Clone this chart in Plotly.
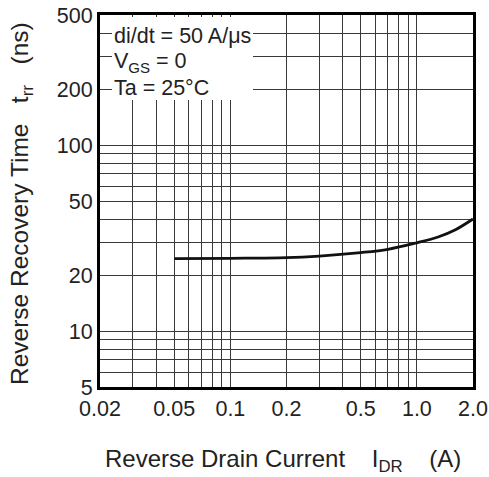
import plotly.graph_objects as go
import math

# Data
current_a = [0.05, 0.1, 0.2, 0.3, 0.5, 0.7, 1.0, 1.3, 1.6, 2.0]
trr_ns = [24.5, 24.6, 24.8, 25.3, 26.4, 27.5, 29.8, 32.0, 34.9, 40.0]

x_tick_vals = [0.02, 0.05, 0.1, 0.2, 0.5, 1.0, 2.0]
x_tick_text = ["0.02", "0.05", "0.1", "0.2", "0.5", "1.0", "2.0"]
x_minor_grid = [0.03, 0.04, 0.06, 0.07, 0.08, 0.09, 0.3, 0.4, 0.6, 0.7, 0.8, 0.9]

y_tick_vals = [5, 10, 20, 50, 100, 200, 500]
y_tick_text = ["5", "10", "20", "50", "100", "200", "500"]
y_minor_grid = [6, 7, 8, 9, 30, 40, 60, 70, 80, 90, 300, 400]

conditions = ["di/dt = 50 A/\u03bcs", "V<sub>GS</sub> = 0", "Ta = 25\u00b0C"]

FONT = "Liberation Sans, Arial, Helvetica, sans-serif"
FS = 21.5
FT = 24
GRID = "#3a3a3a"
TXT = "#222222"
NB = "\u00a0"

fig = go.Figure()
fig.add_trace(go.Scatter(
    x=current_a, y=trr_ns, mode="lines",
    line=dict(color="#111111", width=2.8, shape="spline", smoothing=1.0),
    showlegend=False, hoverinfo="skip",
))

axis_common = dict(
    type="log", showline=True, linecolor="black", linewidth=3, mirror=True,
    showgrid=True, gridcolor=GRID, gridwidth=1, ticks="",
    tickfont=dict(family=FONT, size=FS, color=TXT),
    zeroline=False, automargin=False,
)

fig.update_xaxes(
    **axis_common,
    range=[math.log10(0.02), math.log10(2.0)],
    tickmode="array", tickvals=x_tick_vals, ticktext=x_tick_text,
    minor=dict(tickmode="array", tickvals=x_minor_grid, showgrid=True,
               gridcolor=GRID, gridwidth=1, ticks=""),
    ticklabelstandoff=0,
)
fig.update_yaxes(
    **axis_common,
    range=[math.log10(5), math.log10(500)],
    tickmode="array", tickvals=y_tick_vals, ticktext=y_tick_text,
    minor=dict(tickmode="array", tickvals=y_minor_grid, showgrid=True,
               gridcolor=GRID, gridwidth=1, ticks=""),
    ticklabelstandoff=0,
)

# white panel behind the condition text
fig.add_shape(type="rect", xref="paper", yref="paper",
              x0=(112 - 100) / 373, x1=(253 - 100) / 373,
              y0=(387 - 100) / 372, y1=(387 - 17) / 372,
              fillcolor="white", line=dict(width=0), layer="above")

rows_px = [36, 62, 88]
for txt, ypx in zip(conditions, rows_px):
    fig.add_annotation(text=txt, xref="paper", yref="paper",
                       x=(112 - 100) / 373, y=(387 - ypx) / 372,
                       xanchor="left", yanchor="middle", showarrow=False,
                       font=dict(family=FONT, size=FS, color=TXT))

fig.add_annotation(
    text="Reverse Drain Current" + NB * 4 + "I<sub>DR</sub>" + NB * 4 + "(A)",
    xref="paper", yref="paper", x=(283 - 100) / 373, y=(387 - 460) / 372,
    xanchor="center", yanchor="middle", showarrow=False,
    font=dict(family=FONT, size=FT, color=TXT))

fig.add_annotation(
    text="Reverse Recovery Time" + NB * 3 + "t<sub>rr</sub>" + NB * 3 + "(ns)",
    xref="paper", yref="paper", x=(21 - 100) / 373, y=(387 - 204) / 372,
    xanchor="center", yanchor="middle", textangle=-90, showarrow=False,
    font=dict(family=FONT, size=24.5, color=TXT))

fig.update_layout(
    width=489, height=477,
    margin=dict(l=100, r=16, t=15, b=90),
    paper_bgcolor="white", plot_bgcolor="white",
    font=dict(family=FONT, size=FS, color=TXT),
)

fig.write_html("out.html")
